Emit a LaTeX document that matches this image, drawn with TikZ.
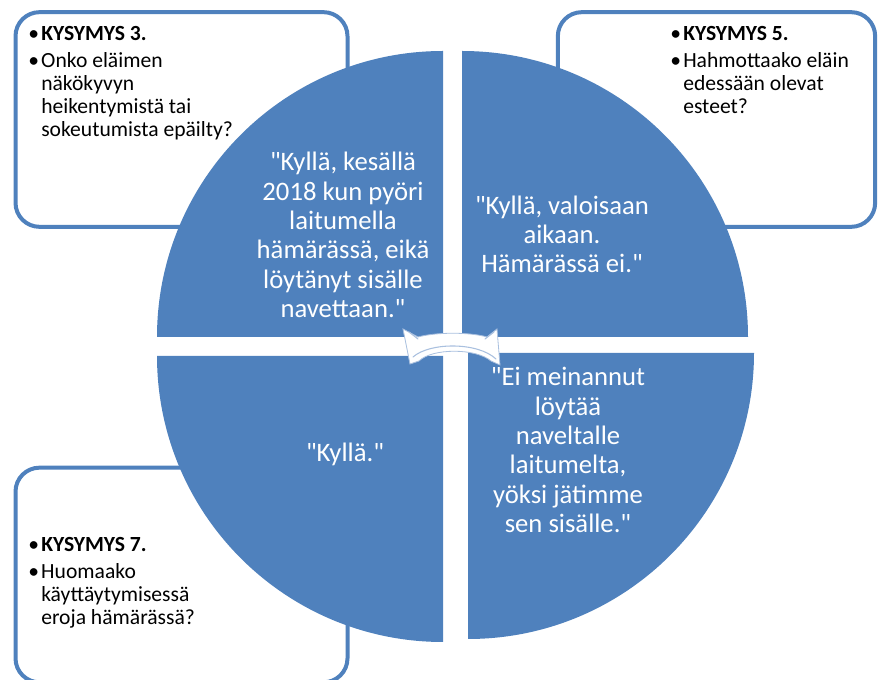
\documentclass[tikz,border=0pt]{standalone}
\usepackage{fontspec}
\setmainfont{Carlito}[Ligatures=TeXOff]
\definecolor{accent}{HTML}{4F81BD}
\definecolor{arrowline}{HTML}{A9C0DF}
\newcommand{\bul}{\makebox[9.75pt][l]{•}}
\newcommand{\ind}{\hspace*{9.75pt}}
\begin{document}
\begin{tikzpicture}[x=0.75pt,y=-0.75pt,
  quad/.style={fill=accent, draw=none},
  qbox/.style={draw=accent, line width=3pt, fill=white, rounded corners=18pt, rectangle, inner sep=0pt},
  qtext/.style={text=white, inner sep=0pt, anchor=base},
  btext/.style={text=black, inner sep=0pt, anchor=base west},
  hub/.style={fill=white, draw=arrowline, line width=0.6pt},
  hubline/.style={draw=arrowline, line width=0.8pt, line cap=round}]
\useasboundingbox (0,0) rectangle (879,680);
\clip (0,0) rectangle (879,680);

% question boxes
\node[qbox, minimum width=249pt, minimum height=161pt] (box3) at (181.5,119.5) {};
\node[qbox, minimum width=238pt, minimum height=161pt] (box5) at (716.5,119.5) {};
\node[qbox, minimum width=249pt, minimum height=161pt] (box7) at (181.5,575) {};

\node[btext] (t3) at (28,41) {\parbox[t]{250pt}{\fontsize{16.2}{17.25}\selectfont\raggedright
\bul\textbf{KYSYMYS 3.}\\[3pt]
\bul Onko eläimen\\
\ind näkökyvyn\\
\ind heikentymistä tai\\
\ind sokeutumista epäilty?}};

\node[btext] (t5) at (670,41) {\parbox[t]{200pt}{\fontsize{16.2}{17.25}\selectfont\raggedright
\bul\textbf{KYSYMYS 5.}\\[3pt]
\bul Hahmottaako eläin\\
\ind edessään olevat\\
\ind esteet?}};

\node[btext] (t7) at (28,552) {\parbox[t]{250pt}{\fontsize{16.2}{17.25}\selectfont\raggedright
\bul\textbf{KYSYMYS 7.}\\[3pt]
\bul Huomaako\\
\ind käyttäytymisessä\\
\ind eroja hämärässä?}};

% quadrants
\path[quad] (443,337) -- ++(-286,0) arc[start angle=180, end angle=270, radius=286] -- cycle;
\path[quad] (462,337) -- ++(0,-286) arc[start angle=270, end angle=360, radius=286] -- cycle;
\path[quad] (443,356) -- ++(-286,0) arc[start angle=180, end angle=90, radius=286] -- cycle;
\path[quad] (468,353) -- ++(286,0) arc[start angle=0, end angle=90, radius=286] -- cycle;

% quadrant texts
\node[qtext] (a3) at (343,171) {\parbox[t]{230pt}{\fontsize{20}{22}\selectfont\centering
"Kyllä, kesällä\\ 2018 kun pyöri\\ laitumella\\ hämärässä, eikä\\ löytänyt sisälle\\ navettaan."}};
\node[qtext] (a5) at (562,215) {\parbox[t]{230pt}{\fontsize{20}{21.5}\selectfont\centering
"Kyllä, valoisaan\\ aikaan.\\ Hämärässä ei."}};
\node[qtext] (a7) at (345,462) {\parbox[t]{230pt}{\fontsize{20}{22}\selectfont\centering
"Kyllä."}};
\node[qtext] (a9) at (568,386) {\parbox[t]{230pt}{\fontsize{20}{22}\selectfont\centering
"Ei meinannut\\ löytää\\ naveltalle\\ laitumelta,\\ yöksi jätimme\\ sen sisälle."}};

% central double arrow
\path[hub] (403,329) -- (410,364) -- (419,361) .. controls (432,348) and (476,348) .. (491,361)
  -- (500,365) -- (497,329) -- (487,337) .. controls (470,332) and (436,332) .. (418,337) -- cycle;
\draw[hubline] (413,357) .. controls (430,342) and (478,342) .. (496,359);
\draw[hubline] (409,332) -- (418,339);
\draw[hubline] (494,332) -- (485,339);
\end{tikzpicture}
\end{document}
